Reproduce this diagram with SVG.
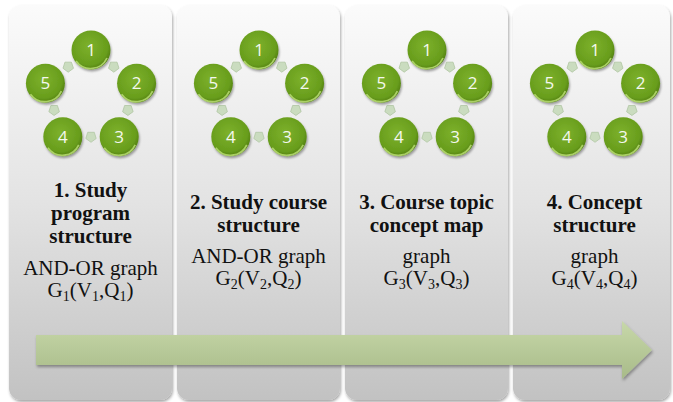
<svg xmlns="http://www.w3.org/2000/svg" width="673" height="402" viewBox="0 0 673 402">
<defs>
<linearGradient id="panelGrad" x1="0" y1="0" x2="0" y2="1">
<stop offset="0" stop-color="#fbfbfb"/>
<stop offset="0.5" stop-color="#e3e3e3"/>
<stop offset="1" stop-color="#c2c2c2"/>
</linearGradient>
<radialGradient id="nodeGrad" cx="0.45" cy="0.4" r="0.6">
<stop offset="0" stop-color="#7db12c"/>
<stop offset="0.8" stop-color="#689d1c"/>
<stop offset="1" stop-color="#527f12"/>
</radialGradient>
<linearGradient id="arrowGrad" x1="0" y1="0" x2="0" y2="1">
<stop offset="0" stop-color="#c7d8a9"/>
<stop offset="1" stop-color="#a8bb89"/>
</linearGradient>
<filter id="shadow" x="-10%" y="-10%" width="120%" height="130%">
<feDropShadow dx="1" dy="2" stdDeviation="1.5" flood-color="#000" flood-opacity="0.35"/>
</filter>
<filter id="nshadow" x="-30%" y="-30%" width="160%" height="160%">
<feDropShadow dx="1" dy="2" stdDeviation="1.2" flood-color="#000" flood-opacity="0.35"/>
</filter>
<g id="node">
<circle r="19.5" fill="url(#nodeGrad)" filter="url(#nshadow)"/>
<path d="M -15 11 A 18 18 0 0 0 16 8" fill="none" stroke="#b8dc74" stroke-width="1.8" opacity="0.85"/>
</g>
<polygon id="con" points="0,-5.5 5.2,-1.7 3.3,4.5 -3.3,4.5 -5.2,-1.7" fill="#cadcbf" stroke="#aec4a0" stroke-width="0.7"/>
<g id="graph">
<use href="#con" x="113.8" y="66.6" transform="rotate(36 113.8 66.6)"/>
<use href="#con" x="127.9" y="110" transform="rotate(108 127.9 110)"/>
<use href="#con" x="91" y="136.8" transform="rotate(180 91 136.8)"/>
<use href="#con" x="54.1" y="110" transform="rotate(252 54.1 110)"/>
<use href="#con" x="68.2" y="66.6" transform="rotate(324 68.2 66.6)"/>
<use href="#node" x="91" y="50"/>
<use href="#node" x="136.6" y="83.2"/>
<use href="#node" x="119.2" y="136.8"/>
<use href="#node" x="62.8" y="136.8"/>
<use href="#node" x="45.4" y="83.2"/>
<text class="num" x="91" y="56">1</text>
<text class="num" x="136.6" y="89.2">2</text>
<text class="num" x="119.2" y="142.8">3</text>
<text class="num" x="62.8" y="142.8">4</text>
<text class="num" x="45.4" y="89.2">5</text>
</g>
</defs>
<style>
.panel{fill:url(#panelGrad);filter:url(#shadow);}
.num{font-family:"Open Sans","Liberation Sans",sans-serif;font-size:17px;fill:#f4f8ee;text-anchor:middle;}
.title{font-family:"Liberation Serif","DejaVu Serif",serif;font-size:21px;font-weight:bold;fill:#111;text-anchor:middle;}
.sub{font-family:"Liberation Serif","DejaVu Serif",serif;font-size:21px;fill:#111;text-anchor:middle;}
.s{font-size:14px;}
</style>
<rect width="673" height="402" fill="#ffffff"/>
<g id="stage1">
<rect class="panel" x="9" y="5" width="163" height="395" rx="12"/>
<use href="#graph"/>
<text class="title" x="90.5" y="197">1. Study</text>
<text class="title" x="90.5" y="220">program</text>
<text class="title" x="90.5" y="243">structure</text>
<text class="sub" x="90.5" y="275">AND-OR graph</text>
<text class="sub" x="90.5" y="297">G<tspan class="s" dy="4">1</tspan><tspan dy="-4">(V</tspan><tspan class="s" dy="4">1</tspan><tspan dy="-4">,Q</tspan><tspan class="s" dy="4">1</tspan><tspan dy="-4">)</tspan></text>
</g>
<g id="stage2">
<rect class="panel" x="177" y="5" width="163" height="395" rx="12"/>
<use href="#graph" x="168"/>
<text class="title" x="258.5" y="209">2. Study course</text>
<text class="title" x="258.5" y="232">structure</text>
<text class="sub" x="258.5" y="263">AND-OR graph</text>
<text class="sub" x="258.5" y="285">G<tspan class="s" dy="4">2</tspan><tspan dy="-4">(V</tspan><tspan class="s" dy="4">2</tspan><tspan dy="-4">,Q</tspan><tspan class="s" dy="4">2</tspan><tspan dy="-4">)</tspan></text>
</g>
<g id="stage3">
<rect class="panel" x="345" y="5" width="163" height="395" rx="12"/>
<use href="#graph" x="336"/>
<text class="title" x="426.5" y="209">3. Course topic</text>
<text class="title" x="426.5" y="232">concept map</text>
<text class="sub" x="426.5" y="263">graph</text>
<text class="sub" x="426.5" y="285">G<tspan class="s" dy="4">3</tspan><tspan dy="-4">(V</tspan><tspan class="s" dy="4">3</tspan><tspan dy="-4">,Q</tspan><tspan class="s" dy="4">3</tspan><tspan dy="-4">)</tspan></text>
</g>
<g id="stage4">
<rect class="panel" x="513" y="5" width="157" height="395" rx="12"/>
<use href="#graph" x="504"/>
<text class="title" x="594.5" y="209">4. Concept</text>
<text class="title" x="594.5" y="232">structure</text>
<text class="sub" x="594.5" y="263">graph</text>
<text class="sub" x="594.5" y="285">G<tspan class="s" dy="4">4</tspan><tspan dy="-4">(V</tspan><tspan class="s" dy="4">4</tspan><tspan dy="-4">,Q</tspan><tspan class="s" dy="4">4</tspan><tspan dy="-4">)</tspan></text>
</g>
<g id="connectors">
<polygon points="36,335 622,335 622,321 652,350 622,379 622,365 36,365" fill="url(#arrowGrad)" filter="url(#shadow)"/>
</g>
</svg>
